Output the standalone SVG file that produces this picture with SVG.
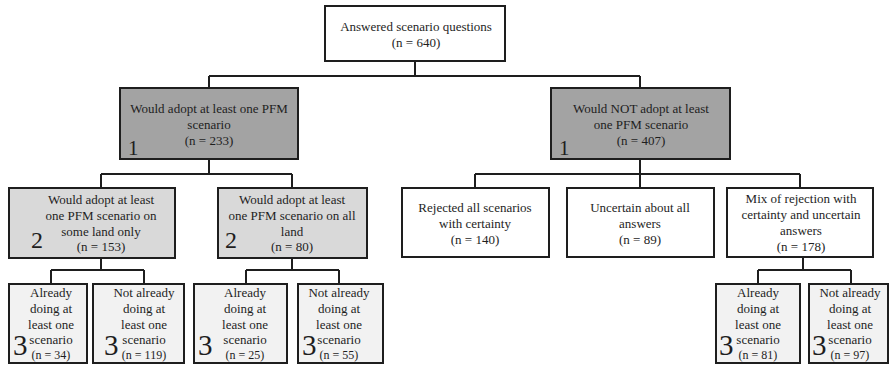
<svg xmlns="http://www.w3.org/2000/svg" width="889" height="365" viewBox="0 0 889 365">
<style>
.b{stroke:#1e1e1e;stroke-width:2}
.w{fill:#ffffff}
.g1{fill:#a3a3a3}
.g2{fill:#d9d9d9}
.g3{fill:#f2f2f2}
text{font-family:"Liberation Serif","Times New Roman",serif;fill:#1e1e1e;text-anchor:middle;font-size:13px}
.s{font-size:12px}
.n1{font-size:21px;text-anchor:start}
.n2{font-size:24px;text-anchor:start}
.n3{font-size:29px;text-anchor:start}
.c{fill:none;stroke:#1e1e1e;stroke-width:2}
</style>
<rect width="889" height="365" fill="#ffffff"/>
<g id="connectors">
<path class="c" d="M415 61V76M209 76H640M209 76V88M640 76V88"/>
<path class="c" d="M209 159V174M101 174H292M101 174V188M292 174V188"/>
<path class="c" d="M640 159V174M475 174H800M475 174V188M640 174V188M800 174V188"/>
<path class="c" d="M101 258V270M51 270H144M51 270V284M144 270V284"/>
<path class="c" d="M292 258V270M246 270H339M246 270V284M339 270V284"/>
<path class="c" d="M803 257V270M758 270H851M758 270V284M851 270V284"/>
</g>
<g id="root">
<rect class="b w" x="325" y="6" width="180" height="55"/>
<text x="416" y="31">Answered scenario questions</text>
<text x="416" y="47">(n = 640)</text>
</g>
<g id="adopt">
<rect class="b g1" x="120" y="88" width="178" height="71"/>
<text x="209" y="113">Would adopt at least one PFM</text>
<text x="209" y="129">scenario</text>
<text x="209" y="144.5">(n = 233)</text>
<text class="n1" x="128" y="155">1</text>
</g>
<g id="notadopt">
<rect class="b g1" x="551" y="88" width="179" height="71"/>
<text x="641" y="113">Would NOT adopt at least</text>
<text x="641" y="129">one PFM scenario</text>
<text x="641" y="144.5">(n = 407)</text>
<text class="n1" x="559" y="155">1</text>
</g>
<g id="someland">
<rect class="b g2" x="9" y="188" width="166" height="70"/>
<text x="101" y="204">Would adopt at least</text>
<text x="101" y="220">one PFM scenario on</text>
<text x="101" y="235.5">some land only</text>
<text x="101" y="251">(n = 153)</text>
<text class="n2" x="31" y="248">2</text>
</g>
<g id="allland">
<rect class="b g2" x="218" y="188" width="149" height="70"/>
<text x="292" y="204">Would adopt at least</text>
<text x="292" y="220">one PFM scenario on all</text>
<text x="292" y="235.5">land</text>
<text x="292" y="251">(n = 80)</text>
<text class="n2" x="225" y="248">2</text>
</g>
<g id="rejected">
<rect class="b w" x="402" y="188" width="147" height="69"/>
<text x="475" y="212">Rejected all scenarios</text>
<text x="475" y="228">with certainty</text>
<text x="475" y="244">(n = 140)</text>
</g>
<g id="uncertain">
<rect class="b w" x="567" y="188" width="147" height="69"/>
<text x="640" y="212">Uncertain about all</text>
<text x="640" y="228">answers</text>
<text x="640" y="244">(n = 89)</text>
</g>
<g id="mix">
<rect class="b w" x="727" y="188" width="146" height="69"/>
<text x="801" y="203">Mix of rejection with</text>
<text x="801" y="219">certainty and uncertain</text>
<text x="801" y="235">answers</text>
<text x="801" y="251">(n = 178)</text>
</g>
<g id="a-already">
<rect class="b g3" x="9" y="284" width="78" height="79"/>
<text x="51" y="297">Already</text>
<text x="51" y="313">doing at</text>
<text x="51" y="328.5">least one</text>
<text x="51" y="344">scenario</text>
<text class="s" x="51" y="359">(n = 34)</text>
<text class="n3" x="13" y="355">3</text>
</g>
<g id="a-notalready">
<rect class="b g3" x="93" y="284" width="91" height="79"/>
<text x="144" y="297">Not already</text>
<text x="144" y="313">doing at</text>
<text x="144" y="328.5">least one</text>
<text x="144" y="344">scenario</text>
<text class="s" x="144" y="359">(n = 119)</text>
<text class="n3" x="104" y="355">3</text>
</g>
<g id="b-already">
<rect class="b g3" x="194" y="284" width="93" height="79"/>
<text x="245" y="297">Already</text>
<text x="245" y="313">doing at</text>
<text x="245" y="328.5">least one</text>
<text x="245" y="344">scenario</text>
<text class="s" x="245" y="359">(n = 25)</text>
<text class="n3" x="198" y="355">3</text>
</g>
<g id="b-notalready">
<rect class="b g3" x="298" y="284" width="85" height="79"/>
<text x="339" y="297">Not already</text>
<text x="339" y="313">doing at</text>
<text x="339" y="328.5">least one</text>
<text x="339" y="344">scenario</text>
<text class="s" x="339" y="359">(n = 55)</text>
<text class="n3" x="302" y="355">3</text>
</g>
<g id="c-already">
<rect class="b g3" x="716" y="284" width="84" height="79"/>
<text x="758" y="297">Already</text>
<text x="758" y="313">doing at</text>
<text x="758" y="328.5">least one</text>
<text x="758" y="344">scenario</text>
<text class="s" x="758" y="359">(n = 81)</text>
<text class="n3" x="719" y="355">3</text>
</g>
<g id="c-notalready">
<rect class="b g3" x="809" y="284" width="79" height="79"/>
<text x="850" y="297">Not already</text>
<text x="850" y="313">doing at</text>
<text x="850" y="328.5">least one</text>
<text x="850" y="344">scenario</text>
<text class="s" x="850" y="359">(n = 97)</text>
<text class="n3" x="812" y="355">3</text>
</g>
</svg>
